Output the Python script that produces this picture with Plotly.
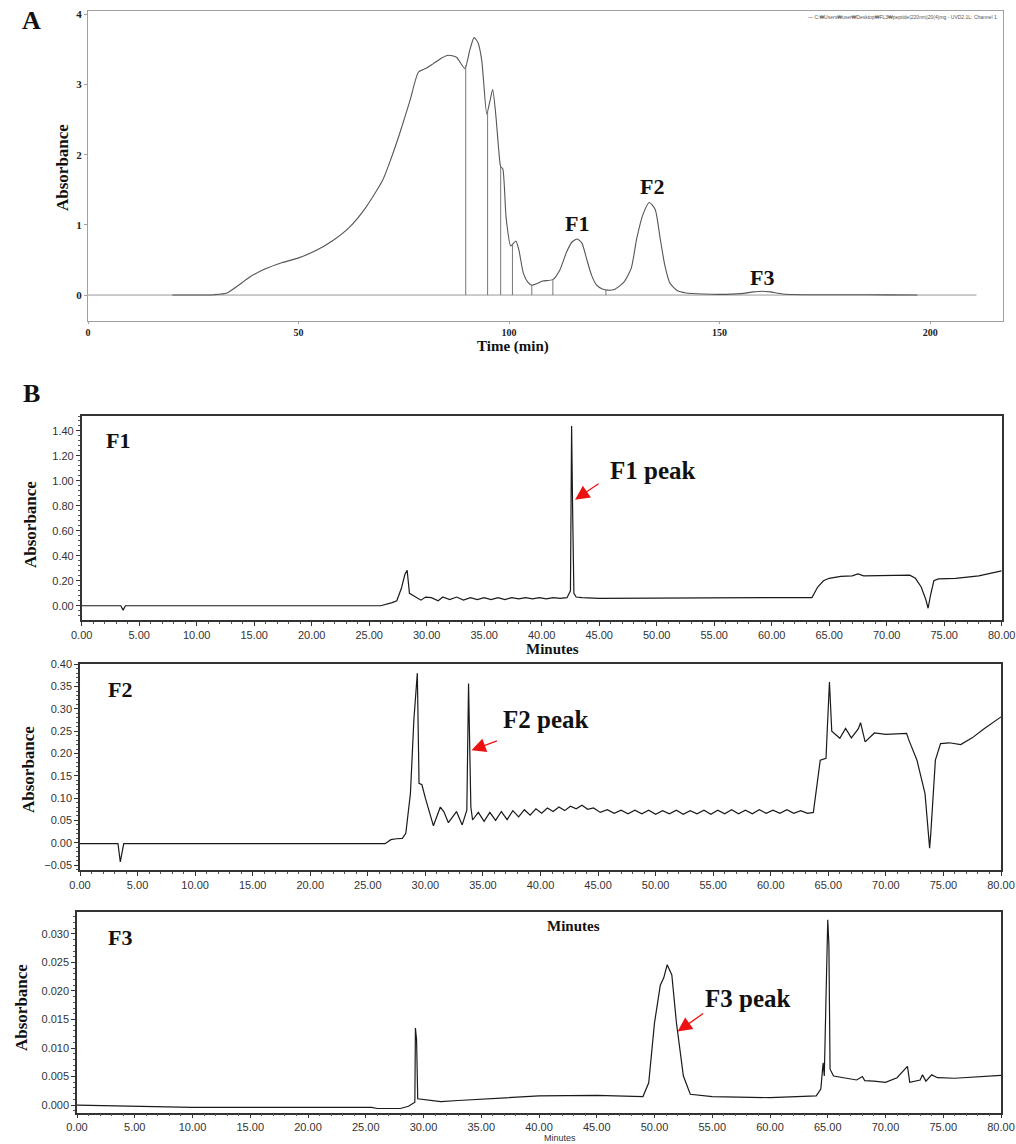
import numpy as np
import plotly.graph_objects as go

# ---------------- DATA ----------------
# Panel A: preparative chromatogram (Time, min / Absorbance)
A_time = [20, 25, 28, 30, 33, 36, 38.5, 42, 46, 50, 54, 58, 62, 66, 70, 72, 74, 76.5, 78.5, 80.5,
          82, 84, 85.5, 87.5, 89.5, 90.7, 91.7, 92.6, 93.5, 94.7, 95.4, 96.1, 96.8, 97.5, 98.0,
          98.5, 99.3, 100.4, 101.6, 102.3, 103.4, 104.5, 105.4, 106.5, 108, 110.4, 112, 113.7,
          115, 116.2, 117.3, 118.4, 119.6, 120.8, 122, 123.5, 125, 127.2, 129, 130.3, 131.8,
          133.3, 134.7, 135.9, 137, 138.2, 140, 142, 146, 150, 155, 158, 160, 162, 165, 170,
          180, 190, 197]
A_abs = [0, 0, 0, 0.005, 0.03, 0.15, 0.26, 0.37, 0.46, 0.53, 0.63, 0.77, 0.96, 1.25, 1.64, 1.95,
         2.3, 2.78, 3.18, 3.24, 3.3, 3.38, 3.42, 3.39, 3.23, 3.5, 3.67, 3.6, 3.35, 2.58, 2.75,
         2.93, 2.6, 2.1, 1.83, 1.8, 1.1, 0.7, 0.77, 0.65, 0.31, 0.18, 0.14, 0.16, 0.2, 0.22,
         0.35, 0.62, 0.76, 0.8, 0.74, 0.52, 0.28, 0.14, 0.09, 0.07, 0.08, 0.18, 0.38, 0.8, 1.15,
         1.32, 1.22, 0.8, 0.42, 0.17, 0.06, 0.03, 0.015, 0.01, 0.02, 0.045, 0.055, 0.045, 0.015,
         0.005, 0.005, 0.003, 0.0]
A_baseline_range = [0, 211]
A_cut_times = [89.7, 94.9, 98.0, 100.8, 105.4, 110.4, 123.0]
A_labels = ["F1", "F2", "F3"]
A_label_pos = [(116.2, 1.02), (134.0, 1.55), (160.0, 0.25)]

# Panel B – F1
F1_time = [0, 3.4, 3.6, 3.8, 26.0, 26.5, 27.0, 27.4, 27.8, 28.1, 28.3, 28.5, 29.0, 29.5, 29.9,
           30.4, 31.0, 31.4, 32.0, 32.6, 33.2, 33.8, 34.4, 35.0, 35.6, 36.2, 36.8, 37.4, 38.0,
           38.6, 39.2, 39.8, 40.4, 41.0, 41.6, 42.2, 42.5, 42.6, 42.7, 42.8, 43.0, 43.5, 45, 47,
           50, 53, 56, 60, 63.5, 64.0, 64.5, 65.0, 66.0, 67.0, 67.5, 68.0, 70.0, 72.0, 72.5,
           73.0, 73.4, 73.6, 73.8, 74.1, 74.5, 76, 78, 80]
F1_abs = [0, 0, -0.035, 0, 0, 0.01, 0.025, 0.04, 0.14, 0.25, 0.285, 0.10, 0.075, 0.045, 0.07,
          0.065, 0.04, 0.07, 0.05, 0.07, 0.045, 0.065, 0.05, 0.065, 0.05, 0.065, 0.05, 0.065,
          0.055, 0.065, 0.055, 0.065, 0.055, 0.065, 0.06, 0.065, 0.12, 1.44, 0.7, 0.1, 0.07,
          0.065, 0.06, 0.06, 0.06, 0.062, 0.065, 0.065, 0.066, 0.15, 0.2, 0.22, 0.235, 0.24,
          0.255, 0.24, 0.245, 0.245, 0.22, 0.15, 0.05, -0.02, 0.08, 0.2, 0.215, 0.22, 0.24, 0.28]

# Panel B – F2
F2_time = [0, 3.3, 3.5, 3.65, 3.8, 26.5, 27.0, 27.5, 28.0, 28.3, 28.7, 29.0, 29.3, 29.45, 29.7,
           30.0, 30.4, 30.7, 31.3, 31.6, 32.0, 32.4, 32.7, 33.2, 33.6, 33.75, 33.85, 33.95, 34.1,
           34.6, 35.1, 35.6, 36.1, 36.6, 37.1, 37.6, 38.1, 38.6, 39.1, 39.6, 40.1, 40.6, 41.1,
           41.6, 42.1, 42.6, 43.1, 43.6, 44.1, 44.6, 45.2, 45.8, 46.4, 47.0, 47.6, 48.2, 48.8,
           49.4, 50.0, 50.6, 51.2, 51.8, 52.4, 53.0, 53.6, 54.2, 54.8, 55.4, 56.0, 56.6, 57.2,
           57.8, 58.4, 59.0, 59.6, 60.2, 60.8, 61.4, 62.0, 62.6, 63.2, 63.7, 64.3, 64.8, 64.9,
           65.1, 65.3, 65.5, 66.0, 66.5, 67.0, 67.6, 67.8, 68.2, 69.0, 70.0, 71.0, 71.8, 72.0,
           72.7, 73.4, 73.8, 73.9, 74.3, 74.75, 75.5, 76.5, 77.5, 78.5, 79.5, 80.0]
F2_abs = [-0.002, -0.002, -0.043, -0.02, -0.002, -0.002, 0.007, 0.009, 0.01, 0.021, 0.11, 0.275,
          0.38, 0.133, 0.13, 0.1, 0.066, 0.038, 0.08, 0.07, 0.045, 0.06, 0.07, 0.04, 0.073, 0.357,
          0.185, 0.08, 0.051, 0.068, 0.048, 0.068, 0.05, 0.07, 0.052, 0.072, 0.058, 0.074, 0.062,
          0.076, 0.066, 0.078, 0.07, 0.08, 0.072, 0.082, 0.076, 0.084, 0.075, 0.078, 0.068, 0.074,
          0.066, 0.073, 0.065, 0.073, 0.065, 0.073, 0.064, 0.072, 0.065, 0.073, 0.064, 0.072,
          0.065, 0.073, 0.064, 0.073, 0.065, 0.074, 0.065, 0.073, 0.065, 0.074, 0.066, 0.073,
          0.066, 0.074, 0.066, 0.072, 0.066, 0.068, 0.185, 0.189, 0.248, 0.36, 0.25, 0.245, 0.234,
          0.256, 0.235, 0.255, 0.269, 0.226, 0.246, 0.243, 0.244, 0.245, 0.23, 0.185, 0.11,
          -0.012, 0.02, 0.185, 0.222, 0.224, 0.22, 0.235, 0.255, 0.272, 0.282]

# Panel B – F3
F3_time = [0, 5, 8, 10, 15, 20, 25.5, 26.0, 28.0, 28.7, 29.1, 29.25, 29.3, 29.4, 29.5, 30.5,
           31.5, 33, 35, 38, 40, 45, 49.0, 49.5, 50.0, 50.5, 50.8, 51.1, 51.5, 51.9, 52.5, 53.1,
           55, 60, 64, 64.4, 64.6, 64.7, 64.85, 65.0, 65.1, 65.2, 65.5, 66.5, 67.5, 68.0, 68.2,
           69, 70, 71, 71.9, 72.1, 73, 73.2, 73.5, 74, 74.5, 76, 78, 80]
F3_abs = [0.0, -0.0002, -0.0003, -0.0004, -0.0004, -0.0004, -0.0004, -0.0006, -0.0006, -0.0002,
          0.0003, 0.0005, 0.0135, 0.0115, 0.0011, 0.0008, 0.0006, 0.0008, 0.0010, 0.0013,
          0.0016, 0.0017, 0.0015, 0.0039, 0.0144, 0.021, 0.0223, 0.0246, 0.0228, 0.0144, 0.0051,
          0.0019, 0.0015, 0.0013, 0.0016, 0.0028, 0.0074, 0.0051, 0.0196, 0.0325, 0.028, 0.0063,
          0.0051, 0.0047, 0.0044, 0.005, 0.0043, 0.0042, 0.004, 0.0048, 0.0068, 0.004, 0.0044,
          0.0053, 0.0042, 0.0053, 0.0048, 0.0047, 0.005, 0.0052]

# peak annotations (data coords: arrow tip)
peak_names = ["F1 peak", "F2 peak", "F3 peak"]
peak_tips = [(42.9, 0.85), (34.0, 0.207), (52.0, 0.0129)]

# ---------------- FIGURE ----------------
W, H = 1016, 1144
def px(x):
    return x / W
def py(y):
    return 1 - y / H

SERIF = "Liberation Serif"
SANS = "Liberation Sans"

fig = go.Figure()

# Panel A
fig.add_trace(go.Scatter(x=A_baseline_range, y=[0, 0], mode="lines",
                         line=dict(color="#9a9a9a", width=1), xaxis="x", yaxis="y",
                         showlegend=False, hoverinfo="skip"))
fig.add_trace(go.Scatter(x=A_time, y=A_abs, mode="lines",
                         line=dict(color="#555555", width=1.1, shape="spline", smoothing=0.6),
                         xaxis="x", yaxis="y", showlegend=False))
cut_h = np.interp(A_cut_times, A_time, A_abs)
cx, cy = [], []
for t, h in zip(A_cut_times, cut_h):
    cx += [t, t, None]
    cy += [0, h, None]
fig.add_trace(go.Scatter(x=cx, y=cy, mode="lines", line=dict(color="#777777", width=1),
                         xaxis="x", yaxis="y", showlegend=False, hoverinfo="skip"))

# Panel B traces
for i, (tt, aa) in enumerate([(F1_time, F1_abs), (F2_time, F2_abs), (F3_time, F3_abs)]):
    n = i + 2
    fig.add_trace(go.Scatter(x=tt, y=aa, mode="lines", line=dict(color="#1a1a1a", width=1.2),
                             xaxis=f"x{n}", yaxis=f"y{n}", showlegend=False))

tickfont_b = dict(family=SANS, size=11, color="#333333")
common_x_b = dict(range=[0, 80], dtick=5, tick0=0, tickformat=".2f", showline=True, mirror=True,
                  linecolor="#333333", linewidth=1.5, ticks="outside", ticklen=4,
                  tickcolor="#333333", showgrid=False, zeroline=False, tickfont=tickfont_b,
                  automargin=False,
                  minor=dict(dtick=1, ticks="outside", ticklen=2, tickcolor="#555555"))
common_y_b = dict(showline=True, mirror=True, linecolor="#333333", linewidth=1.5,
                  ticks="outside", ticklen=4, tickcolor="#333333", showgrid=False,
                  zeroline=False, tickfont=tickfont_b, automargin=False)

fig.update_layout(
    width=W, height=H, margin=dict(l=0, r=0, t=0, b=0, pad=0), autosize=False,
    paper_bgcolor="white", plot_bgcolor="white", showlegend=False,
    xaxis=dict(domain=[px(88), px(1003)], range=[0, 217.3], anchor="y",
               tickvals=[0, 50, 100, 150, 200], showline=True, mirror=True,
               linecolor="#a0a0a0", linewidth=1.2, ticks="outside", ticklen=2,
               tickcolor="#a0a0a0", showgrid=False, zeroline=False, automargin=False,
               tickfont=dict(family=SERIF, size=10, color="#222", weight="bold")),
    yaxis=dict(domain=[py(321), py(11)], range=[-0.37, 4.05], anchor="x",
               tickvals=[0, 1, 2, 3, 4], showline=True, mirror=True,
               linecolor="#a0a0a0", linewidth=1.2, ticks="outside", ticklen=3,
               tickcolor="#a0a0a0", showgrid=False, zeroline=False, automargin=False,
               tickfont=dict(family=SERIF, size=11, color="#222", weight="bold")),
    xaxis2=dict(domain=[px(81.7), px(1001.7)], anchor="y2", **common_x_b),
    yaxis2=dict(domain=[py(620), py(416)], range=[-0.114, 1.52], anchor="x2",
                dtick=0.2, tick0=0, tickformat=".2f",
                minor=dict(dtick=0.04, ticks="outside", ticklen=2, tickcolor="#555555"),
                **common_y_b),
    xaxis3=dict(domain=[px(80), px(1001)], anchor="y3", **common_x_b),
    yaxis3=dict(domain=[py(870), py(664)], range=[-0.061, 0.4005], anchor="x3",
                dtick=0.05, tick0=0, tickformat=".2f",
                minor=dict(dtick=0.01, ticks="outside", ticklen=2, tickcolor="#555555"),
                **common_y_b),
    xaxis4=dict(domain=[px(77), px(1001)], anchor="y4", **common_x_b),
    yaxis4=dict(domain=[py(1112.5), py(911.7)], range=[-0.0013, 0.0339], anchor="x4",
                dtick=0.005, tick0=0, tickformat=".3f",
                minor=dict(dtick=0.001, ticks="outside", ticklen=2, tickcolor="#555555"),
                **common_y_b),
)

ann = []
def txt(x, y, s, size, family=SERIF, bold=True, color="#111", angle=0, xanchor="center"):
    ann.append(dict(x=px(x), y=py(y), xref="paper", yref="paper", text=s, showarrow=False,
                    xanchor=xanchor, yanchor="middle", textangle=angle,
                    font=dict(family=family, size=size, color=color,
                              weight="bold" if bold else "normal")))

# panel letters
txt(31, 20, "A", 26)
txt(31, 393, "B", 26)
# Panel A titles
txt(62, 168, "Absorbance", 17, angle=-90)
txt(513, 346, "Time (min)", 15)
txt(999, 17, "— C:₩Users₩user₩Desktop₩FL3₩peptide(220nm)20(4)mg - UVD2.1L: Channel 1", 5,
    family=SANS, bold=False, color="#555", xanchor="right")
for lab, (lx, ly) in zip(A_labels, A_label_pos):
    ann.append(dict(x=lx, y=ly, xref="x", yref="y", text=lab, showarrow=False,
                    yanchor="middle", font=dict(family=SERIF, size=22, color="#111",
                                                weight="bold")))
# Panel B titles
txt(30, 525, "Absorbance", 17, angle=-90)
txt(28, 770, "Absorbance", 17, angle=-90)
txt(21, 1008, "Absorbance", 17, angle=-90)
txt(118, 441, "F1", 22)
txt(120, 689, "F2", 22)
txt(120, 937, "F3", 22)
txt(552, 649, "Minutes", 15)
txt(573, 926, "Minutes", 15)
txt(560, 1138, "Minutes", 9, family=SANS, bold=False, color="#333")

# peak labels + arrows
peak_text_px = [(653, 470), (546, 719), (748, 998)]
arrow_off = [(25, -17), (27, -10), (27, -19)]
for i, (name, (tx, ty), (ax, ay)) in enumerate(zip(peak_names, peak_tips, arrow_off)):
    n = i + 2
    txt(peak_text_px[i][0], peak_text_px[i][1], name, 25)
    ann.append(dict(x=tx, y=ty, xref=f"x{n}", yref=f"y{n}", ax=ax, ay=ay, text="",
                    showarrow=True, arrowhead=2, arrowsize=2.2, arrowwidth=1.3,
                    arrowcolor="#ee1111", standoff=0))

fig.update_layout(annotations=ann)
fig.write_html("out.html", config={"displayModeBar": False},
               post_script="document.body.style.margin='0';document.body.style.overflow='hidden';")
